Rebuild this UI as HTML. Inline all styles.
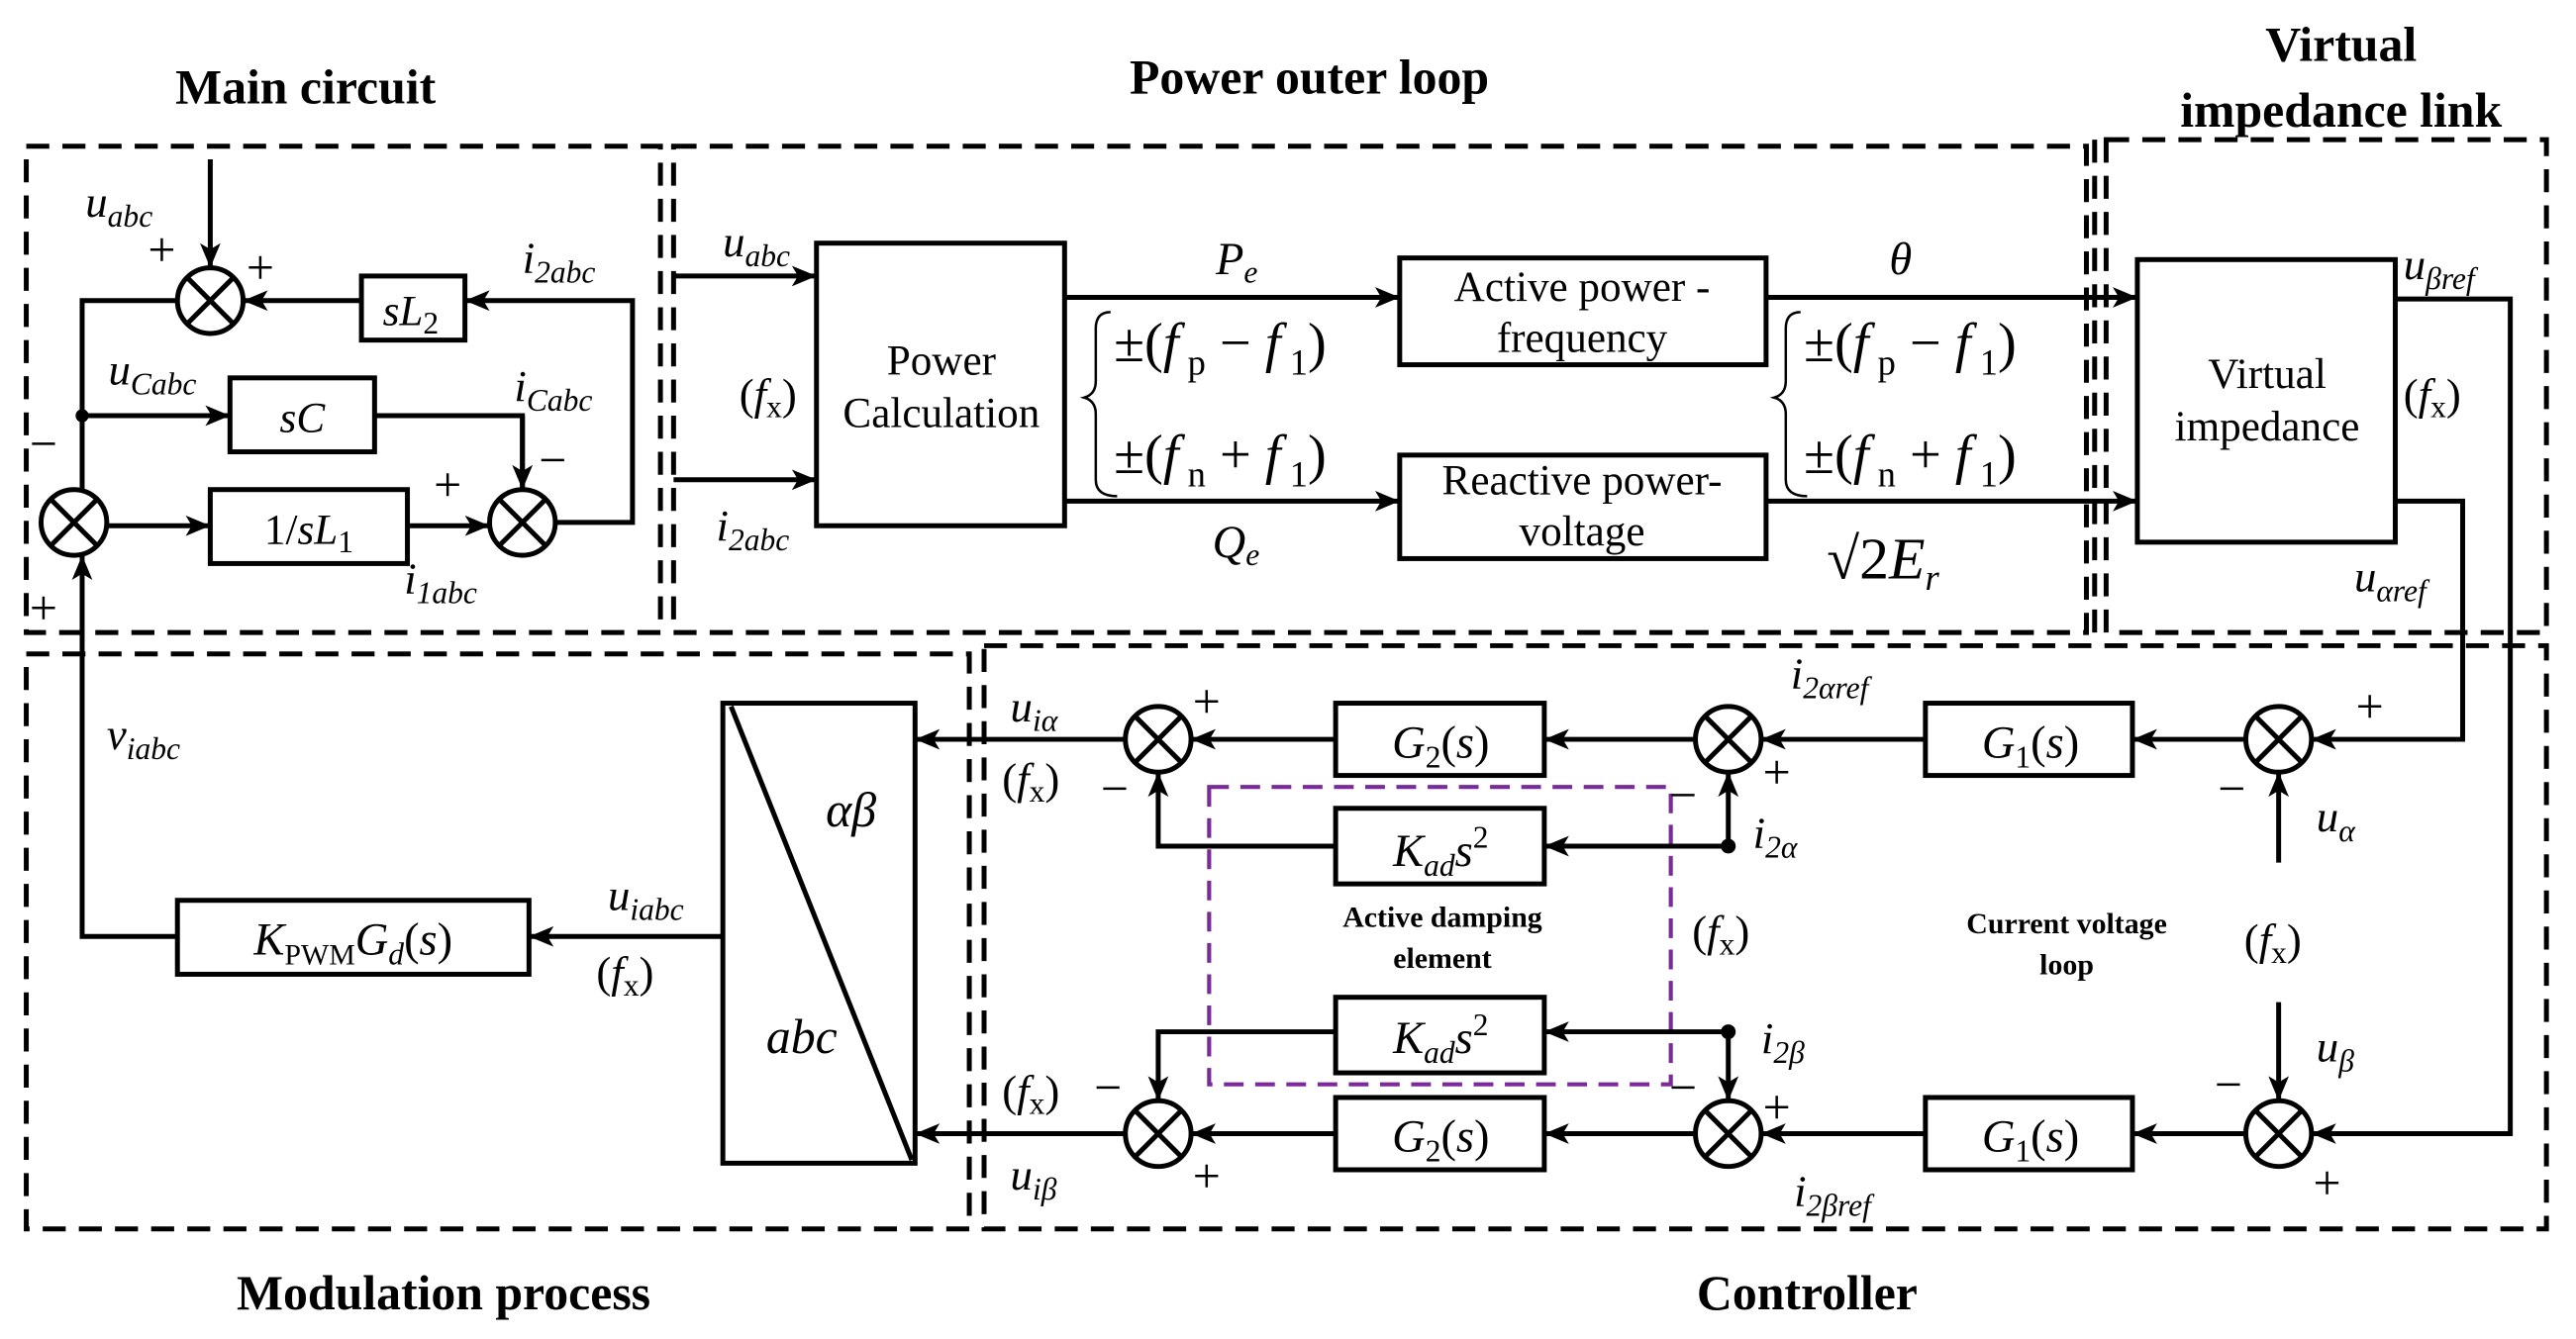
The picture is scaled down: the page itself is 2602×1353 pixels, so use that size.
<!DOCTYPE html>
<html><head><meta charset="utf-8"><style>
html,body{margin:0;padding:0;background:#fff;}
svg{display:block;font-family:"Liberation Serif","DejaVu Serif",serif;}
svg text, svg tspan{font-family:"Liberation Serif","DejaVu Serif",serif;}
.v{font-style:italic;}
.b{font-weight:bold;}
</style></head><body>
<svg width="2602" height="1353" viewBox="0 0 1568 815" preserveAspectRatio="none" xmlns="http://www.w3.org/2000/svg" font-family="Liberation Serif, serif">
<defs>
<marker id="A" viewBox="0 0 12 10" markerWidth="15" markerHeight="13" refX="12" refY="5" orient="auto" markerUnits="userSpaceOnUse"><path d="M0,0 L12,5 L0,10 L3,5 z" fill="#000"/></marker>
</defs>
<g fill="none" stroke="#000" stroke-width="3" stroke-dasharray="14,8">
<rect x="16" y="89" width="386" height="296"/>
<rect x="410" y="89" width="860" height="296"/>
<rect x="1282" y="85" width="268" height="300"/>
<line x1="1275" y1="85" x2="1275" y2="385"/>
<rect x="16" y="398" width="574" height="350"/>
<rect x="599" y="393" width="951" height="355"/>
</g>
<rect x="736" y="479" width="281" height="181" fill="none" stroke="#7a2a9a" stroke-width="2.5" stroke-dasharray="12,7"/>
<g font-size="30" font-weight="bold" text-anchor="middle">
<text x="186" y="63">Main circuit</text>
<text x="797" y="57">Power outer loop</text>
<text x="1425" y="37">Virtual</text>
<text x="1425" y="77">impedance link</text>
<text x="270" y="797">Modulation process</text>
<text x="1100" y="797">Controller</text>
</g>
<g fill="none" stroke="#000" stroke-width="3">
<rect x="220" y="168" width="63" height="39"/>
<rect x="140" y="230" width="88" height="45"/>
<rect x="128" y="298" width="120" height="45"/>
<rect x="497" y="148" width="151" height="172"/>
<rect x="852" y="157" width="223" height="65"/>
<rect x="852" y="277" width="223" height="63"/>
<rect x="1301" y="158" width="157" height="172"/>
<rect x="1172" y="428" width="126" height="44"/>
<rect x="813" y="428" width="127" height="44"/>
<rect x="813" y="492" width="127" height="46"/>
<rect x="813" y="607" width="127" height="46"/>
<rect x="813" y="668" width="127" height="44"/>
<rect x="1172" y="668" width="126" height="44"/>
<rect x="440" y="428" width="117" height="280"/>
<line x1="445" y1="430" x2="555" y2="706"/>
<rect x="108" y="548" width="214" height="45"/>
<circle cx="128" cy="183" r="20"/><path d="M114,169 L142,197 M142,169 L114,197"/>
<circle cx="45" cy="318" r="20"/><path d="M31,304 L59,332 M59,304 L31,332"/>
<circle cx="318" cy="318" r="20"/><path d="M304,304 L332,332 M332,304 L304,332"/>
<circle cx="1387" cy="450" r="20"/><path d="M1373,436 L1401,464 M1401,436 L1373,464"/>
<circle cx="1052" cy="450" r="20"/><path d="M1038,436 L1066,464 M1066,436 L1038,464"/>
<circle cx="705" cy="450" r="20"/><path d="M691,436 L719,464 M719,436 L691,464"/>
<circle cx="1387" cy="690" r="20"/><path d="M1373,676 L1401,704 M1401,676 L1373,704"/>
<circle cx="1052" cy="690" r="20"/><path d="M1038,676 L1066,704 M1066,676 L1038,704"/>
<circle cx="705" cy="690" r="20"/><path d="M691,676 L719,704 M719,676 L691,704"/>
</g>
<g fill="none" stroke="#000" stroke-width="3" marker-end="url(#A)">
<line x1="128" y1="97" x2="128" y2="163"/>
<line x1="220" y1="183" x2="148" y2="183"/>
<polyline points="318,298 318,253 228,253" marker-end="none"/>
<line x1="318" y1="253" x2="318" y2="298"/>
<polyline points="338,318 385,318 385,183 283,183"/>
<polyline points="108,183 50,183 50,298" marker-end="none"/>
<line x1="50" y1="253" x2="140" y2="253"/>
<line x1="65" y1="320" x2="128" y2="320"/>
<line x1="248" y1="320" x2="298" y2="320"/>
<polyline points="108,570 50,570 50,338"/>
<line x1="410" y1="168" x2="497" y2="168"/>
<line x1="410" y1="292" x2="497" y2="292"/>
<line x1="648" y1="181" x2="852" y2="181"/>
<line x1="648" y1="305" x2="852" y2="305"/>
<line x1="1075" y1="181" x2="1301" y2="181"/>
<line x1="1075" y1="305" x2="1301" y2="305"/>
<polyline points="1458,182 1528,182 1528,690 1407,690"/>
<polyline points="1458,305 1499,305 1499,450 1407,450"/>
<line x1="1387" y1="525" x2="1387" y2="470"/>
<line x1="1367" y1="450" x2="1298" y2="450"/>
<line x1="1172" y1="450" x2="1072" y2="450"/>
<line x1="1032" y1="450" x2="940" y2="450"/>
<line x1="813" y1="450" x2="725" y2="450"/>
<line x1="685" y1="450" x2="557" y2="450"/>
<line x1="1052" y1="515" x2="1052" y2="470"/>
<line x1="1052" y1="515" x2="940" y2="515"/>
<polyline points="813,515 705,515 705,470"/>
<line x1="1387" y1="610" x2="1387" y2="670"/>
<line x1="1367" y1="690" x2="1298" y2="690"/>
<line x1="1172" y1="690" x2="1072" y2="690"/>
<line x1="1032" y1="690" x2="940" y2="690"/>
<line x1="813" y1="690" x2="725" y2="690"/>
<line x1="685" y1="690" x2="557" y2="690"/>
<line x1="1052" y1="628" x2="1052" y2="670"/>
<line x1="1052" y1="628" x2="940" y2="628"/>
<polyline points="813,628 705,628 705,670"/>
<line x1="440" y1="570" x2="322" y2="570"/>
</g>
<circle cx="50" cy="253" r="4"/><circle cx="1052" cy="515" r="4.5"/><circle cx="1052" cy="628" r="4.5"/>
<path d="M676,190 Q667,190 667,200 L667,232 Q667,240 660,242 Q667,244 667,252 L667,292 Q667,302 680,302" fill="none" stroke="#000" stroke-width="1.5"/>
<path d="M1096,190 Q1087,190 1087,200 L1087,232 Q1087,240 1080,242 Q1087,244 1087,252 L1087,292 Q1087,302 1100,302" fill="none" stroke="#000" stroke-width="1.5"/>
<g font-size="26" text-anchor="middle">
<text x="250" y="198" font-style="italic">sL<tspan font-size="19" dy="5" font-style="normal">2</tspan></text>
<text x="184" y="263" font-style="italic">sC</text>
<text x="188" y="331">1/<tspan font-style="italic">sL</tspan><tspan font-size="19" dy="5">1</tspan></text>
<text x="573" y="228">Power</text>
<text x="573" y="260">Calculation</text>
<text x="963" y="183">Active power -</text>
<text x="963" y="214">frequency</text>
<text x="963" y="301">Reactive power-</text>
<text x="963" y="332">voltage</text>
<text x="1380" y="236">Virtual</text>
<text x="1380" y="268">impedance</text>
<text x="1236" y="461" font-size="28"><tspan font-style="italic">G</tspan><tspan font-size="19" dy="6">1</tspan><tspan dy="-6">(</tspan><tspan font-style="italic">s</tspan>)</text>
<text x="877" y="461" font-size="28"><tspan font-style="italic">G</tspan><tspan font-size="19" dy="6">2</tspan><tspan dy="-6">(</tspan><tspan font-style="italic">s</tspan>)</text>
<text x="877" y="527" font-size="28" font-style="italic">K<tspan font-size="19" dy="6">ad</tspan><tspan dy="-6">s</tspan><tspan font-size="19" dy="-11" font-style="normal">2</tspan></text>
<text x="877" y="641" font-size="28" font-style="italic">K<tspan font-size="19" dy="6">ad</tspan><tspan dy="-6">s</tspan><tspan font-size="19" dy="-11" font-style="normal">2</tspan></text>
<text x="877" y="701" font-size="28"><tspan font-style="italic">G</tspan><tspan font-size="19" dy="6">2</tspan><tspan dy="-6">(</tspan><tspan font-style="italic">s</tspan>)</text>
<text x="1236" y="701" font-size="28"><tspan font-style="italic">G</tspan><tspan font-size="19" dy="6">1</tspan><tspan dy="-6">(</tspan><tspan font-style="italic">s</tspan>)</text>
<text x="215" y="581" font-size="28"><tspan font-style="italic">K</tspan><tspan font-size="18" dy="6">PWM</tspan><tspan dy="-6" font-style="italic">G</tspan><tspan font-size="19" dy="6" font-style="italic">d</tspan><tspan dy="-6">(</tspan><tspan font-style="italic">s</tspan>)</text>
<text x="518" y="503" font-size="30" font-style="italic">αβ</text>
<text x="488" y="641" font-size="30" font-style="italic">abc</text>
</g>
<g font-size="27">
<text x="52" y="132" font-style="italic">u<tspan font-size="19" dy="6">abc</tspan></text>
<text x="90" y="162" font-size="30">+</text><text x="150" y="173" font-size="30">+</text>
<text x="318" y="166" font-style="italic">i<tspan font-size="19" dy="6">2abc</tspan></text>
<text x="66" y="234" font-style="italic">u<tspan font-size="19" dy="6">Cabc</tspan></text>
<text x="313" y="244" font-style="italic">i<tspan font-size="19" dy="6">Cabc</tspan></text>
<text x="328" y="290" font-size="30">−</text>
<text x="18" y="280" font-size="30">−</text><text x="18" y="380" font-size="30">+</text>
<text x="264" y="305" font-size="30">+</text>
<text x="246" y="361" font-style="italic">i<tspan font-size="19" dy="6">1abc</tspan></text>
<text x="440" y="156" font-style="italic">u<tspan font-size="19" dy="6">abc</tspan></text>
<text x="450" y="249">(<tspan font-style="italic">f</tspan><tspan font-size="19" dy="5">x</tspan><tspan dy="-5">)</tspan></text>
<text x="436" y="329" font-style="italic">i<tspan font-size="19" dy="6">2abc</tspan></text>
<text x="740" y="167" font-style="italic" font-size="28">P<tspan font-size="19" dy="5">e</tspan></text>
<text x="738" y="339" font-style="italic" font-size="28">Q<tspan font-size="19" dy="5">e</tspan></text>
<text x="1150" y="167" font-style="italic" font-size="28">θ</text>
<text x="1112" y="352" font-size="36">√2<tspan font-style="italic">E</tspan><tspan font-style="italic" font-size="22" dy="7">r</tspan></text>
<text x="678" y="220" font-size="34">±(<tspan font-style="italic">f</tspan><tspan font-size="22" dy="8"> p</tspan><tspan dy="-8"> − </tspan><tspan font-style="italic">f</tspan><tspan font-size="22" dy="8"> 1</tspan><tspan dy="-8">)</tspan></text>
<text x="678" y="288" font-size="34">±(<tspan font-style="italic">f</tspan><tspan font-size="22" dy="8"> n</tspan><tspan dy="-8"> + </tspan><tspan font-style="italic">f</tspan><tspan font-size="22" dy="8"> 1</tspan><tspan dy="-8">)</tspan></text>
<text x="1098" y="220" font-size="34">±(<tspan font-style="italic">f</tspan><tspan font-size="22" dy="8"> p</tspan><tspan dy="-8"> − </tspan><tspan font-style="italic">f</tspan><tspan font-size="22" dy="8"> 1</tspan><tspan dy="-8">)</tspan></text>
<text x="1098" y="288" font-size="34">±(<tspan font-style="italic">f</tspan><tspan font-size="22" dy="8"> n</tspan><tspan dy="-8"> + </tspan><tspan font-style="italic">f</tspan><tspan font-size="22" dy="8"> 1</tspan><tspan dy="-8">)</tspan></text>
<text x="1463" y="170" font-style="italic">u<tspan font-size="19" dy="6">βref</tspan></text>
<text x="1463" y="249">(<tspan font-style="italic">f</tspan><tspan font-size="19" dy="5">x</tspan><tspan dy="-5">)</tspan></text>
<text x="1433" y="360" font-style="italic">u<tspan font-size="19" dy="6">αref</tspan></text>
<text x="65" y="456" font-style="italic">v<tspan font-size="19" dy="6">iabc</tspan></text>
<text x="370" y="554" font-style="italic">u<tspan font-size="19" dy="6">iabc</tspan></text>
<text x="363" y="601">(<tspan font-style="italic">f</tspan><tspan font-size="19" dy="5">x</tspan><tspan dy="-5">)</tspan></text>
<text x="615" y="439" font-style="italic">u<tspan font-size="19" dy="6">iα</tspan></text>
<text x="610" y="483">(<tspan font-style="italic">f</tspan><tspan font-size="19" dy="5">x</tspan><tspan dy="-5">)</tspan></text>
<text x="726" y="437" font-size="30">+</text><text x="670" y="490" font-size="30">−</text>
<text x="1090" y="419" font-style="italic">i<tspan font-size="19" dy="6">2αref</tspan></text>
<text x="1073" y="480" font-size="30">+</text><text x="1016" y="494" font-size="30">−</text>
<text x="1067" y="516" font-style="italic">i<tspan font-size="19" dy="6">2α</tspan></text>
<text x="1030" y="576">(<tspan font-style="italic">f</tspan><tspan font-size="19" dy="5">x</tspan><tspan dy="-5">)</tspan></text>
<text x="1434" y="440" font-size="30">+</text><text x="1350" y="490" font-size="30">−</text>
<text x="1410" y="506" font-style="italic">u<tspan font-size="19" dy="6">α</tspan></text>
<text x="1366" y="581">(<tspan font-style="italic">f</tspan><tspan font-size="19" dy="5">x</tspan><tspan dy="-5">)</tspan></text>
<text x="1410" y="646" font-style="italic">u<tspan font-size="19" dy="6">β</tspan></text>
<text x="1348" y="670" font-size="30">−</text><text x="1408" y="730" font-size="30">+</text>
<text x="1072" y="641" font-style="italic">i<tspan font-size="19" dy="6">2β</tspan></text>
<text x="1016" y="672" font-size="30">−</text><text x="1073" y="684" font-size="30">+</text>
<text x="1092" y="734" font-style="italic">i<tspan font-size="19" dy="6">2βref</tspan></text>
<text x="610" y="673">(<tspan font-style="italic">f</tspan><tspan font-size="19" dy="5">x</tspan><tspan dy="-5">)</tspan></text>
<text x="666" y="672" font-size="30">−</text><text x="726" y="726" font-size="30">+</text>
<text x="615" y="724" font-style="italic">u<tspan font-size="19" dy="6">iβ</tspan></text>
</g>
<g font-size="18" font-weight="bold" text-anchor="middle">
<text x="878" y="564">Active damping</text>
<text x="878" y="589">element</text>
<text x="1258" y="568">Current voltage</text>
<text x="1258" y="593">loop</text>
</g>
</svg>
</body></html>
